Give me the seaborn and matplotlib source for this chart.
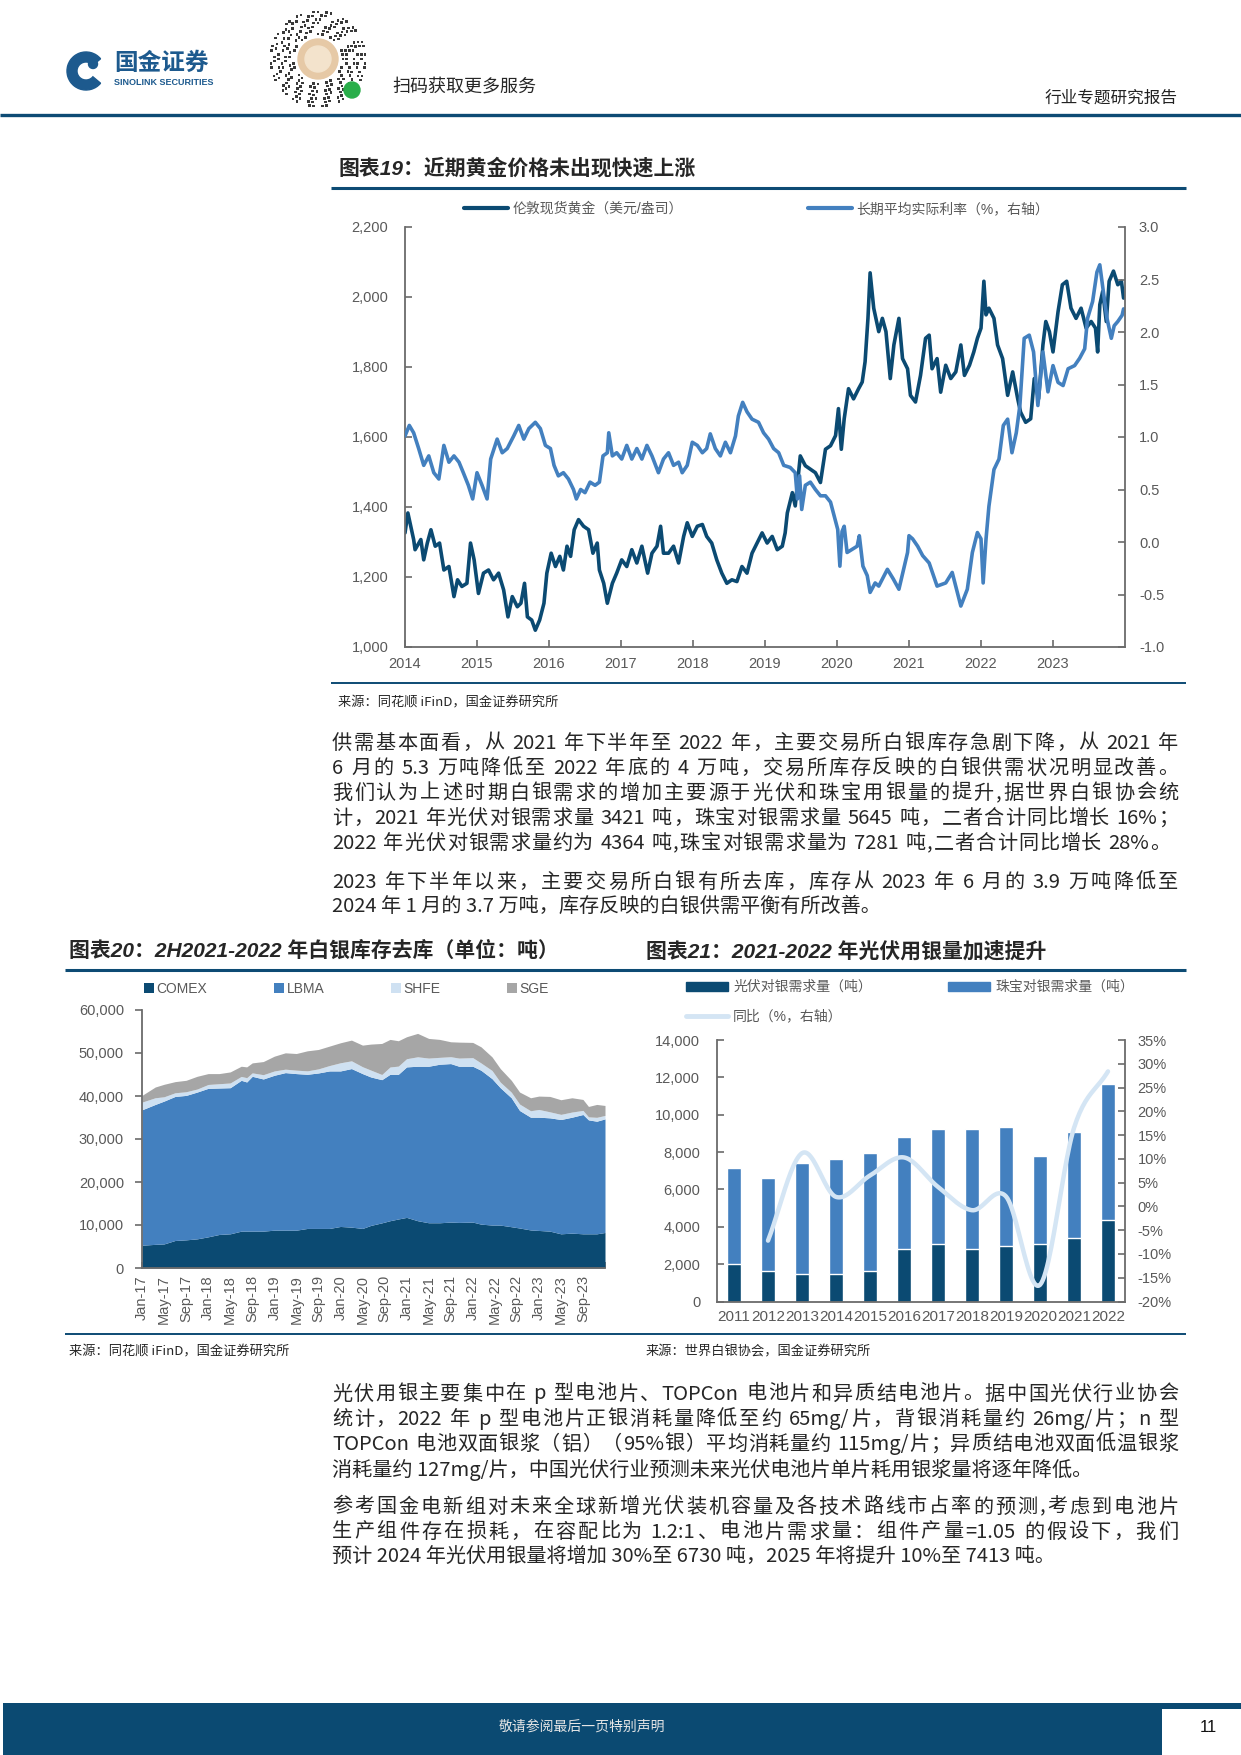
import re
import numpy as np
import pandas as pd
import matplotlib
matplotlib.use('Agg')
import matplotlib.pyplot as plt
import seaborn as sns
from matplotlib.lines import Line2D
from matplotlib.patches import Patch, Rectangle, Circle, Wedge
from matplotlib.ticker import FuncFormatter

years19 = [2014, 2015, 2016, 2017, 2018, 2019, 2020, 2021, 2022, 2023]
gold_t = [2014.00, 2014.04, 2014.06, 2014.12, 2014.14, 2014.22, 2014.26, 2014.31, 2014.36, 2014.42,
          2014.48, 2014.54, 2014.61, 2014.68, 2014.73, 2014.79, 2014.86, 2014.91, 2014.96,
          2015.02, 2015.09, 2015.16, 2015.23, 2015.30, 2015.37, 2015.43, 2015.49, 2015.56, 2015.61,
          2015.66, 2015.70, 2015.76, 2015.81, 2015.87, 2015.93, 2015.97,
          2016.03, 2016.09, 2016.15, 2016.20, 2016.25, 2016.30, 2016.35, 2016.41, 2016.48, 2016.55,
          2016.61, 2016.67, 2016.70, 2016.76, 2016.81, 2016.88, 2016.94,
          2017.01, 2017.08, 2017.15, 2017.22, 2017.29, 2017.37, 2017.43, 2017.50, 2017.55, 2017.59,
          2017.66, 2017.73, 2017.80, 2017.87, 2017.92, 2017.99,
          2018.06, 2018.13, 2018.19, 2018.26, 2018.33, 2018.40, 2018.47, 2018.54, 2018.61, 2018.68,
          2018.75, 2018.82, 2018.89, 2018.96,
          2019.03, 2019.10, 2019.17, 2019.24, 2019.28, 2019.31, 2019.38, 2019.42, 2019.49, 2019.56,
          2019.63, 2019.70, 2019.77, 2019.84, 2019.91, 2019.98,
          2020.02, 2020.06, 2020.10, 2020.16, 2020.23, 2020.30, 2020.35, 2020.39, 2020.43, 2020.46,
          2020.51, 2020.58, 2020.63, 2020.68, 2020.74, 2020.79, 2020.86, 2020.91, 2020.98,
          2021.02, 2021.09, 2021.16, 2021.23, 2021.28, 2021.32, 2021.39, 2021.44, 2021.51, 2021.58,
          2021.65, 2021.72, 2021.77, 2021.84, 2021.90, 2021.95,
          2022.00, 2022.04, 2022.07, 2022.11, 2022.18, 2022.23, 2022.30, 2022.37, 2022.44, 2022.51,
          2022.55, 2022.62, 2022.69, 2022.74, 2022.80, 2022.86, 2022.90, 2022.95,
          2023.00, 2023.07, 2023.13, 2023.19, 2023.25, 2023.32, 2023.39, 2023.46, 2023.53, 2023.59,
          2023.62, 2023.65, 2023.69, 2023.74, 2023.78, 2023.84, 2023.90, 2023.95, 2023.98]
gold_v = [1326, 1383, 1364, 1307, 1278, 1307, 1249, 1297, 1335, 1288,
          1297, 1220, 1230, 1144, 1192, 1173, 1182, 1297, 1249,
          1153, 1211, 1220, 1192, 1211, 1163, 1086, 1144, 1115, 1125,
          1182, 1086, 1077, 1048, 1077, 1125, 1211,
          1268, 1230, 1259, 1220, 1288, 1259, 1335, 1364, 1345, 1335,
          1268, 1297, 1220, 1182, 1125, 1182, 1211,
          1249, 1230, 1278, 1240, 1288, 1211, 1268, 1288, 1345, 1268,
          1268, 1288, 1240, 1316, 1355, 1316,
          1345, 1350, 1316, 1297, 1249, 1211, 1182, 1192, 1187, 1230,
          1211, 1268, 1297, 1326,
          1297, 1316, 1278, 1288, 1326, 1383, 1441, 1403, 1546, 1518,
          1508, 1498, 1470, 1565, 1575, 1604,
          1681, 1565, 1652, 1738, 1709, 1738, 1757, 1815, 1939, 2069,
          1968, 1901, 1939, 1901, 1767, 1863, 1939, 1824, 1795,
          1719, 1700, 1776, 1882, 1891, 1795, 1824, 1728, 1805, 1767,
          1786, 1863, 1776, 1805, 1843, 1882,
          1911, 2045, 1949, 1968, 1939, 1863, 1824, 1719, 1786, 1709,
          1671, 1642, 1652, 1767, 1709, 1863, 1930, 1901,
          1843, 1958, 2035, 2045, 1968, 1939, 1968, 1911, 1930, 1911,
          1843, 1978, 2016, 1930, 2045, 2074, 2035, 2045, 1997]
rate_t = [2014.00, 2014.06, 2014.12, 2014.19, 2014.26, 2014.33, 2014.40, 2014.47, 2014.54, 2014.61,
          2014.68, 2014.75, 2014.81, 2014.88, 2014.94,
          2015.00, 2015.07, 2015.14, 2015.19, 2015.28, 2015.35, 2015.42, 2015.51, 2015.58, 2015.65,
          2015.72, 2015.81, 2015.88, 2015.95,
          2016.02, 2016.07, 2016.13, 2016.20, 2016.27, 2016.34, 2016.38, 2016.44, 2016.50, 2016.57,
          2016.64, 2016.70, 2016.75, 2016.81, 2016.83, 2016.88, 2016.94,
          2017.01, 2017.08, 2017.15, 2017.22, 2017.29, 2017.36, 2017.43, 2017.52, 2017.59, 2017.66,
          2017.73, 2017.80, 2017.85, 2017.92, 2017.99,
          2018.06, 2018.13, 2018.19, 2018.24, 2018.31, 2018.38, 2018.45, 2018.52, 2018.59, 2018.63,
          2018.69, 2018.75, 2018.82, 2018.91, 2018.98,
          2019.05, 2019.12, 2019.19, 2019.26, 2019.35, 2019.42, 2019.45, 2019.48, 2019.51, 2019.56,
          2019.63, 2019.70, 2019.77, 2019.84, 2019.91, 2019.96,
          2020.01, 2020.04, 2020.07, 2020.10, 2020.14, 2020.21, 2020.28, 2020.31, 2020.36, 2020.42,
          2020.46, 2020.53, 2020.58, 2020.70, 2020.78, 2020.86, 2020.98,
          2021.00, 2021.05, 2021.12, 2021.19, 2021.28, 2021.39, 2021.51, 2021.60, 2021.66, 2021.72,
          2021.81, 2021.88, 2021.95,
          2022.00, 2022.03, 2022.07, 2022.11, 2022.18, 2022.25, 2022.31, 2022.37, 2022.43, 2022.49,
          2022.54, 2022.60, 2022.67, 2022.73, 2022.79, 2022.86, 2022.93,
          2023.00, 2023.07, 2023.14, 2023.21, 2023.30, 2023.37, 2023.44, 2023.48, 2023.55, 2023.61,
          2023.65, 2023.70, 2023.75, 2023.81, 2023.85, 2023.90, 2023.96, 2023.98]
rate_v = [1.01, 1.11, 1.04, 0.89, 0.73, 0.82, 0.66, 0.60, 0.92, 0.76,
          0.82, 0.76, 0.66, 0.54, 0.41,
          0.66, 0.54, 0.41, 0.79, 0.98, 0.85, 0.89, 1.01, 1.11, 0.98,
          1.08, 1.14, 1.08, 0.92,
          0.89, 0.73, 0.63, 0.66, 0.60, 0.50, 0.41, 0.50, 0.47, 0.57,
          0.54, 0.57, 0.82, 0.85, 1.04, 0.82, 0.85,
          0.79, 0.92, 0.79, 0.89, 0.79, 0.92, 0.82, 0.66, 0.79, 0.85,
          0.73, 0.76, 0.66, 0.73, 0.95,
          0.92, 0.85, 0.89, 1.03, 0.89, 0.82, 0.95, 0.85, 1.01, 1.20,
          1.33, 1.24, 1.17, 1.14, 1.04,
          0.98, 0.89, 0.85, 0.73, 0.71, 0.66, 0.41, 0.63, 0.31, 0.54,
          0.57, 0.50, 0.44, 0.44, 0.38, 0.25,
          0.12, -0.23, 0.10, 0.15, -0.10, -0.07, -0.04, 0.06, -0.23, -0.32,
          -0.48, -0.39, -0.42, -0.26, -0.35, -0.45, -0.10,
          0.06, 0.03, -0.04, -0.13, -0.20, -0.42, -0.39, -0.29, -0.45, -0.61,
          -0.45, -0.10, 0.09,
          0.03, -0.39, 0.03, 0.34, 0.69, 0.79, 1.11, 1.17, 0.85, 1.04,
          1.30, 1.94, 1.97, 1.81, 1.30, 1.81, 1.43,
          1.68, 1.52, 1.49, 1.65, 1.68, 1.75, 1.84, 2.13, 2.29, 2.57,
          2.64, 2.38, 2.13, 1.94, 2.06, 2.10, 2.16, 2.22]

# ---------------- chart 20: exchange silver stocks (tonnes), month index from Jan-17
names20 = ['COMEX', 'LBMA', 'SHFE', 'SGE']
months20 = [0, 2.4, 4, 6, 8, 10, 12, 14, 16, 18, 19, 20, 22, 24, 26, 28, 30, 32, 34, 36,
            38, 40, 41.5, 43.5, 45, 46.5, 48, 50, 52, 54, 56, 57.5, 60, 61.5, 63.5, 65, 67,
            68.5, 70.5, 72, 74, 76, 78, 80, 81, 82.5, 84]
comex = [5300, 5500, 5600, 6400, 6550, 6780, 7250, 7800, 7950, 8570, 8570, 8570, 8570, 8800,
         8800, 8800, 9200, 9200, 9200, 9660, 9500, 9200, 9900, 10500, 11000, 11400, 11770,
         11000, 10520, 10520, 10680, 10600, 10680, 10200, 9990, 9980, 9600, 9300, 8850, 8730,
         8570, 7950, 8110, 7950, 7950, 7950, 8260]
lbma = [31490, 32540, 33220, 33500, 33590, 34140, 34530, 34060, 33980, 35080, 34690, 36010,
        35390, 36020, 36640, 36410, 35850, 36160, 36630, 36170, 36880, 36010, 34530, 33300,
        34050, 33650, 35000, 35920, 36400, 36870, 36860, 36320, 36240, 35790, 34050, 31950,
        29990, 27330, 26220, 26340, 26350, 26580, 26960, 27750, 26500, 26190, 26420]
shfe = [1790, 1550, 1000, 850, 850, 700, 900, 1000, 1100, 900, 1000, 800, 1000, 1000, 800,
        800, 800, 950, 1250, 1900, 1800, 1600, 1600, 1200, 1700, 1900, 1900, 2200, 1900, 1600,
        1600, 1900, 2000, 1700, 1900, 1300, 1300, 1500, 1500, 1800, 1400, 1200, 1200, 950,
        700, 900, 800]
sge = [1560, 2500, 2900, 2590, 2660, 2960, 2530, 2350, 2570, 2370, 2510, 2320, 3050, 3440,
       3800, 3870, 4660, 4510, 4520, 4650, 4820, 5020, 6040, 7220, 6410, 5900, 5110, 5440,
       4570, 4170, 3470, 3710, 3540, 3750, 3160, 3150, 2760, 2790, 3020, 3110, 3580, 3400,
       3320, 2550, 2420, 3000, 2320]
ticks20 = list(range(0, 85, 4))
labels20 = ['Jan-17', 'May-17', 'Sep-17', 'Jan-18', 'May-18', 'Sep-18', 'Jan-19', 'May-19',
            'Sep-19', 'Jan-20', 'May-20', 'Sep-20', 'Jan-21', 'May-21', 'Sep-21', 'Jan-22',
            'May-22', 'Sep-22', 'Jan-23', 'May-23', 'Sep-23', '']

# ---------------- chart 21: PV / jewellery silver demand (t) and yoy (%)
years21 = ['2011', '2012', '2013', '2014', '2015', '2016', '2017', '2018', '2019', '2020', '2021', '2022']
pv21 = [2020, 1610, 1450, 1450, 1610, 2790, 3060, 2790, 2950, 3060, 3421, 4364]
jewel21 = [5150, 5020, 5990, 6170, 6360, 6040, 6200, 6470, 6370, 4750, 5645, 7281]
yoy21 = [-7.2, 11.2, 2.0, 6.5, 10.3, 4.1, -0.8, 2.1, -16.5, 16.5, 28.4]   # 2012..2022

# ---------------- body text
para1 = ['供需基本面看，从 2021 年下半年至 2022 年，主要交易所白银库存急剧下降，从 2021 年',
         '6 月的 5.3 万吨降低至 2022 年底的 4 万吨，交易所库存反映的白银供需状况明显改善。',
         '我们认为上述时期白银需求的增加主要源于光伏和珠宝用银量的提升,据世界白银协会统',
         '计，2021 年光伏对银需求量 3421 吨，珠宝对银需求量 5645 吨，二者合计同比增长 16%；',
         '2022 年光伏对银需求量约为 4364 吨,珠宝对银需求量为 7281 吨,二者合计同比增长 28%。']
para2 = ['2023 年下半年以来，主要交易所白银有所去库，库存从 2023 年 6 月的 3.9 万吨降低至',
         '2024 年 1 月的 3.7 万吨，库存反映的白银供需平衡有所改善。']
para3 = ['光伏用银主要集中在 p 型电池片、TOPCon 电池片和异质结电池片。据中国光伏行业协会',
         '统计，2022 年 p 型电池片正银消耗量降低至约 65mg/片，背银消耗量约 26mg/片；n 型',
         'TOPCon 电池双面银浆（铝）（95%银）平均消耗量约 115mg/片；异质结电池双面低温银浆',
         '消耗量约 127mg/片，中国光伏行业预测未来光伏电池片单片耗用银浆量将逐年降低。']
para4 = ['参考国金电新组对未来全球新增光伏装机容量及各技术路线市占率的预测,考虑到电池片',
         '生产组件存在损耗，在容配比为 1.2:1、电池片需求量：组件产量=1.05 的假设下，我们',
         '预计 2024 年光伏用银量将增加 30%至 6730 吨，2025 年将提升 10%至 7413 吨。']

# ---------------- style
W, H = 1241, 1755
NAVY = '#0b4a72'
BLUE = '#4380bf'
LIGHT = '#cfe1f2'
GRAY = '#a6a6a6'
PALE = '#d4e5f4'
AXC = '#6b6b6b'
TXT = '#595959'
RULE = '#0d4b74'

CJK = ['Noto Sans CJK SC', 'DejaVu Sans']
SANS = ['Liberation Sans', 'Noto Sans CJK SC', 'DejaVu Sans']
BODY = ['Liberation Sans Narrow', 'Noto Sans CJK SC', 'DejaVu Sans']

sns.set_style('ticks')
plt.rcParams['font.family'] = SANS
plt.rcParams['axes.unicode_minus'] = False

fig = plt.figure(figsize=(W / 100, H / 100), dpi=100)
deco = fig.add_axes([0, 0, 1, 1])
deco.set_xlim(0, W)
deco.set_ylim(H, 0)
deco.axis('off')


def box(x0, y0, x1, y1):
    return [x0 / W, 1 - y1 / H, (x1 - x0) / W, (y1 - y0) / H]


def hline(y, x0, x1, lw, color=RULE):
    deco.add_line(Line2D([x0, x1], [y, y], color=color, lw=lw, solid_capstyle='butt'))


def frame(ax, show):
    for k, s in ax.spines.items():
        s.set_visible(k in show)
        s.set_color(AXC)
        s.set_linewidth(1.3)
    ax.set_xlabel('')
    ax.set_ylabel('')


def excel_smooth(xs, ys, n=24):
    # catmull-rom through the points, like excel's "smoothed line"
    p = np.column_stack([xs, ys]).astype(float)
    p = np.vstack([2 * p[0] - p[1], p, 2 * p[-1] - p[-2]])
    t = np.linspace(0, 1, n, endpoint=False)[:, None]
    out = []
    for i in range(1, len(p) - 2):
        p0, p1, p2, p3 = p[i - 1], p[i], p[i + 1], p[i + 2]
        out.append(0.5 * (2 * p1 + (p2 - p0) * t + (2 * p0 - 5 * p1 + 4 * p2 - p3) * t ** 2
                          + (3 * p1 - p0 - 3 * p2 + p3) * t ** 3))
    out.append(p[-2][None])
    c = np.vstack(out)
    return c[:, 0], c[:, 1]


def body_line(s, x0, y, width=None, size=14.5):
    if width is None:
        deco.text(x0, y, s, fontsize=size, family=BODY, va='center', ha='left')
        return
    toks, gaps, sp = [], [], False
    for p in re.findall(r'\s+|[\x21-\x7e]+|\S', s):
        if p.isspace():
            sp = True
            continue
        toks.append(p)
        gaps.append(sp)
        sp = False
    arts = [deco.text(0, y, t, fontsize=size, family=BODY, va='center', ha='left') for t in toks]
    r = fig.canvas.get_renderer()
    ws = [a.get_window_extent(r).width for a in arts]
    spw = size * 0.3 * 100 / 72
    natural = sum(ws) + spw * sum(gaps)
    extra = max(0.0, (width - natural) / max(1, len(toks) - 1))
    x = x0
    for i, (a, w) in enumerate(zip(arts, ws)):
        if i > 0:
            x += extra + (spw if gaps[i] else 0)
        a.set_x(x)
        x += w


# ---------------- page header
deco.add_patch(Wedge((86, 71), 19, 40, 320, width=10, color='#1d5a8e'))
deco.add_patch(Circle((93, 64), 4.5, color='#1d5a8e'))
deco.text(114, 63, '国金证券', fontsize=17, weight='bold', family=CJK, color='#1d5a8e', va='center')
deco.text(114, 82, 'SINOLINK SECURITIES', fontsize=6.5, weight='bold', color='#1d5a8e', va='center')

qc = (318, 59)
for ring in range(7):
    rr = 25 + ring * 3.7
    n = int(2 * np.pi * rr / 4.3)
    for k in range(n):
        if (k * 5 + ring * 3) % 7 < 4:
            a = 2 * np.pi * k / n
            deco.add_patch(Rectangle((qc[0] + rr * np.cos(a) - 1.3, qc[1] + rr * np.sin(a) - 1.3),
                                     2.6, 2.6, color='#3a3a3a', lw=0))
deco.add_patch(Circle(qc, 20, color='#e6c9a6'))
deco.add_patch(Circle(qc, 13, color='#f3e3cc'))
deco.add_patch(Circle((352, 90), 8, color='#2aae4a'))
deco.text(392, 87, '扫码获取更多服务', fontsize=13, family=CJK, va='center')
deco.text(1178, 98, '行业专题研究报告', fontsize=12, family=CJK, va='center', ha='right', color='#222222')
hline(115, 0, W, 2.4)

# ---------------- chart 19
deco.text(338, 168, '图表19：近期黄金价格未出现快速上涨', fontsize=15, weight='bold', style='italic',
          family=SANS, va='center')
hline(188, 331, 1186, 2.2)
hline(683, 331, 1186, 1.4)
deco.text(338, 703, '来源：同花顺 iFinD，国金证券研究所', fontsize=9.5, family=CJK, va='center')

ax19 = fig.add_axes(box(405, 227, 1125, 647))
sns.lineplot(x=gold_t, y=gold_v, ax=ax19, color=NAVY, lw=2.6, sort=False, legend=False)
ax19b = ax19.twinx()
sns.lineplot(x=rate_t, y=rate_v, ax=ax19b, color=BLUE, lw=2.6, sort=False, legend=False)
ax19.set_xlim(2014, 2024)
ax19.set_ylim(1000, 2200)
ax19.set_xticks(years19)
ax19.set_yticks(range(1000, 2201, 200))
ax19.yaxis.set_major_formatter(FuncFormatter(lambda v, p: f'{v:,.0f}'))
ax19b.set_ylim(-1, 3)
ax19b.set_yticks(np.arange(-1, 3.01, 0.5))
ax19b.yaxis.set_major_formatter(FuncFormatter(lambda v, p: f'{v:.1f}'))
frame(ax19, ['left', 'bottom'])
frame(ax19b, ['right'])
ax19.tick_params(direction='in', length=5, width=1.2, color=AXC, labelcolor=TXT, labelsize=10.5)
ax19.tick_params(axis='y', pad=12)
ax19.tick_params(axis='x', pad=7)
ax19b.tick_params(direction='in', length=5, width=1.2, color=AXC, labelcolor=TXT, labelsize=10.5, pad=10)
h19 = [Line2D([], [], color=NAVY, lw=3), Line2D([], [], color=BLUE, lw=3)]
ax19.legend(h19, ['伦敦现货黄金（美元/盎司）', '长期平均实际利率（%，右轴）'], ncol=2,
            loc='center left', bbox_to_anchor=(464 / W, 1 - 209 / H), bbox_transform=fig.transFigure,
            frameon=False, fontsize=10, handlelength=3.2, handletextpad=0.3, columnspacing=9,
            borderpad=0, borderaxespad=0, labelcolor=TXT)

# ---------------- paragraphs 1-2
for i, s in enumerate(para1):
    body_line(s, 332, 743 + i * 25.2, 846 if i < 4 else 838)
body_line(para2[0], 332, 882, 846)
body_line(para2[1], 332, 906)

# ---------------- chart 20
deco.text(69, 951, '图表20：2H2021-2022 年白银库存去库（单位：吨）', fontsize=15, weight='bold',
          style='italic', family=SANS, va='center')
deco.text(646, 951, '图表21：2021-2022 年光伏用银量加速提升', fontsize=15, weight='bold',
          style='italic', family=SANS, va='center')
hline(970, 65, 1186, 2.2)
hline(1334, 65, 1186, 1.4)
deco.text(69, 1352, '来源：同花顺 iFinD，国金证券研究所', fontsize=9.5, family=CJK, va='center')
deco.text(646, 1352, '来源：世界白银协会，国金证券研究所', fontsize=9.5, family=CJK, va='center')

ax20 = fig.add_axes(box(142, 1010, 605, 1268))
polys = ax20.stackplot(months20, comex, lbma, shfe, sge, colors=[NAVY, BLUE, LIGHT, GRAY],
                       labels=names20, lw=0)
ax20.set_xlim(0, 84)
ax20.set_ylim(0, 60000)
ax20.set_xticks(ticks20)
ax20.set_xticklabels(labels20, rotation=90)
ax20.set_yticks(range(0, 60001, 10000))
ax20.yaxis.set_major_formatter(FuncFormatter(lambda v, p: f'{v:,.0f}'))
frame(ax20, ['left', 'bottom'])
ax20.tick_params(axis='y', direction='out', length=5, width=1.2, color=AXC, labelcolor=TXT,
                 labelsize=10.5, pad=8)
ax20.tick_params(axis='x', direction='in', length=4, width=1.2, color=AXC, labelcolor=TXT,
                 labelsize=10.5, pad=5)
ax20.legend(polys, names20, ncol=4, loc='center left', bbox_to_anchor=(144 / W, 1 - 989 / H),
            bbox_transform=fig.transFigure, frameon=False, fontsize=10, handlelength=0.75,
            handleheight=0.75, handletextpad=0.15, columnspacing=4.8, borderpad=0,
            borderaxespad=0, labelcolor=TXT)

# ---------------- chart 21
ax21 = fig.add_axes(box(717, 1040, 1125, 1301.5))
df21 = pd.DataFrame({'year': years21, 'pv': pv21, 'jewel': jewel21})
df21['total'] = df21['pv'] + df21['jewel']
sns.barplot(data=df21, x='year', y='total', color=BLUE, saturation=1, width=0.44, errorbar=None, ax=ax21)
sns.barplot(data=df21, x='year', y='pv', color=NAVY, saturation=1, width=0.44, errorbar=None, ax=ax21)
ax21b = ax21.twinx()
sx, sy = excel_smooth(np.arange(1, 12), yoy21)
ax21b.plot(sx, sy, color=PALE, lw=3.2, solid_capstyle='round')
ax21.set_xlim(-0.5, 11.5)
ax21.set_ylim(0, 14000)
ax21.set_yticks(range(0, 14001, 2000))
ax21.yaxis.set_major_formatter(FuncFormatter(lambda v, p: f'{v:,.0f}'))
ax21b.set_ylim(-20, 35)
ax21b.set_yticks(range(-20, 36, 5))
ax21b.yaxis.set_major_formatter(FuncFormatter(lambda v, p: f'{v:.0f}%'))
frame(ax21, ['left', 'bottom'])
frame(ax21b, ['right'])
ax21.tick_params(direction='in', length=5, width=1.2, color=AXC, labelcolor=TXT, labelsize=10.5)
ax21.tick_params(axis='y', pad=12)
ax21.tick_params(axis='x', pad=6, labelsize=11, length=0)
ax21b.tick_params(direction='in', length=5, width=1.2, color=AXC, labelcolor=TXT, labelsize=10.5, pad=9)
h21 = [Patch(color=NAVY), Line2D([], [], color=PALE, lw=3.5), Patch(color=BLUE)]
l21 = ['光伏对银需求量（吨）', '同比（%，右轴）', '珠宝对银需求量（吨）']
ax21.legend(h21, l21, ncol=2, loc='upper left', bbox_to_anchor=(686 / W, 1 - 980 / H),
            bbox_transform=fig.transFigure, frameon=False, fontsize=10, handlelength=3,
            handleheight=0.6, handletextpad=0.4, columnspacing=5.5, labelspacing=1.1,
            borderpad=0, borderaxespad=0, labelcolor=TXT)

# ---------------- paragraphs 3-4
for i, s in enumerate(para3):
    body_line(s, 332, 1394 + i * 25.2, 846 if i < 3 else None)
for i, s in enumerate(para4):
    body_line(s, 332, 1507 + i * 25, 846 if i < 2 else None)

# ---------------- footer
deco.add_patch(Rectangle((3, 1703), W - 3, 52, color=NAVY, lw=0))
deco.add_patch(Rectangle((1162, 1709), W - 1162, 46, color='white', lw=0))
deco.text(582, 1727, '敬请参阅最后一页特别声明', fontsize=10, family=CJK, color='#e6e6e6',
          va='center', ha='center')
deco.text(1208, 1727, '11', fontsize=12, va='center', ha='center', color='#111111')

fig.savefig('out.png', dpi=100)
